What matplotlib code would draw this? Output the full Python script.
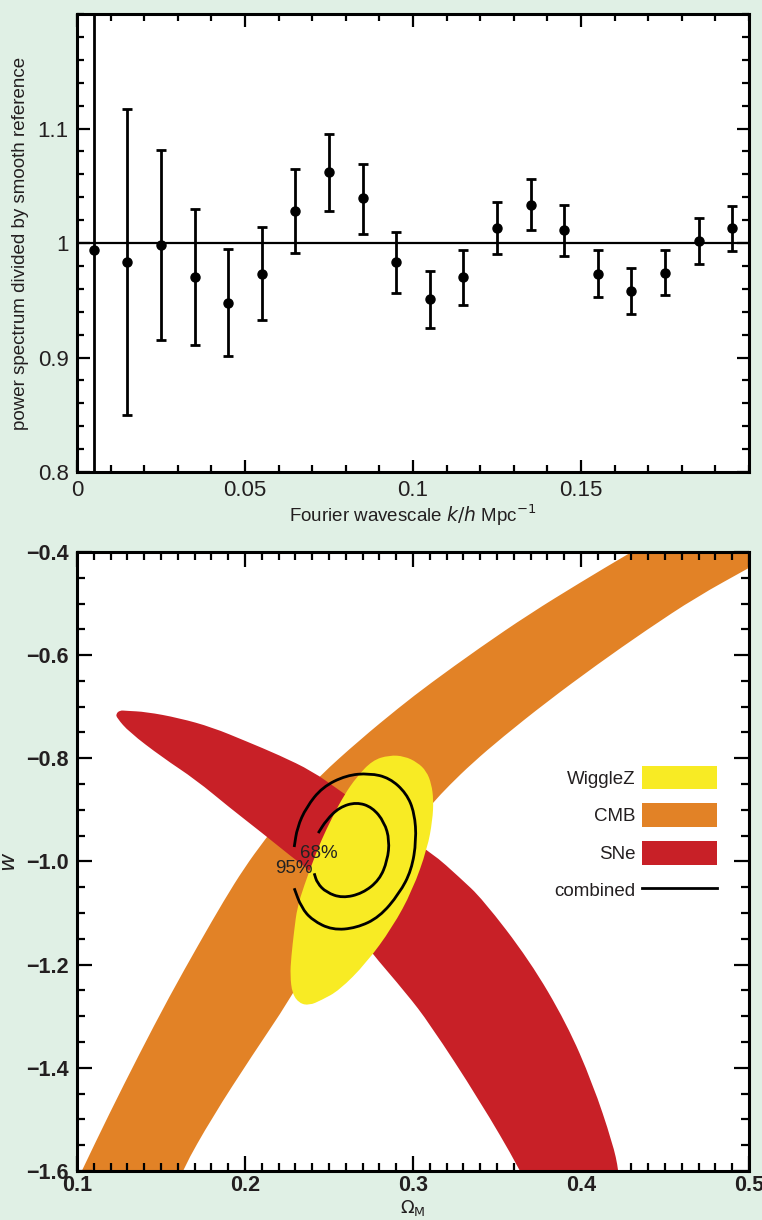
import matplotlib
matplotlib.use('Agg')
import matplotlib.pyplot as plt
from matplotlib.patches import Patch, PathPatch
from matplotlib.path import Path
from matplotlib.lines import Line2D
from matplotlib.ticker import MultipleLocator

FONT = ['Liberation Sans Narrow', 'Liberation Sans', 'DejaVu Sans']
plt.rcParams['font.family'] = FONT
plt.rcParams['mathtext.fontset'] = 'custom'
plt.rcParams['mathtext.rm'] = 'Liberation Sans Narrow'
plt.rcParams['mathtext.it'] = 'Liberation Sans Narrow:italic'

BG = '#e0f0e5'
INK = '#231f20'
YELLOW = '#f8eb24'
ORANGE = '#e28226'
RED = '#c82027'

# --- top panel: power spectrum / smooth reference ---
k_vals = [0.005, 0.015, 0.025, 0.035, 0.045, 0.055, 0.065, 0.075, 0.085, 0.095,
          0.105, 0.115, 0.125, 0.135, 0.145, 0.155, 0.165, 0.175, 0.185, 0.195]
ratio = [0.994, 0.983, 0.998, 0.970, 0.948, 0.973, 1.028, 1.062, 1.039, 0.983,
         0.951, 0.970, 1.013, 1.033, 1.011, 0.973, 0.958, 0.974, 1.002, 1.013]
err_lo = [0.400, 0.133, 0.083, 0.059, 0.047, 0.040, 0.037, 0.034, 0.031, 0.027,
          0.025, 0.024, 0.023, 0.022, 0.022, 0.020, 0.020, 0.019, 0.020, 0.020]
err_hi = [0.400, 0.134, 0.083, 0.060, 0.047, 0.041, 0.037, 0.033, 0.030, 0.027,
          0.025, 0.024, 0.023, 0.023, 0.022, 0.021, 0.020, 0.020, 0.020, 0.019]

# --- bottom panel: (Omega_M, w) confidence regions (outline vertices) ---
cmb_om = [0.0946, 0.1030, 0.1191, 0.1370, 0.1548, 0.1727, 0.1876, 0.1995, 0.2115, 0.2264,
          0.2442, 0.2681, 0.2919, 0.3098, 0.3396, 0.3694, 0.3992, 0.4290, 0.4588,
          0.5243, 0.5000, 0.4689, 0.4391, 0.4093, 0.3795, 0.3533, 0.3354, 0.3217, 0.3116,
          0.2919, 0.2681, 0.2442, 0.2264, 0.2043, 0.1805, 0.1626, 0.1560]
cmb_w = [-1.657, -1.599, -1.490, -1.374, -1.263, -1.159, -1.075, -1.013, -0.959, -0.897,
         -0.835, -0.765, -0.701, -0.656, -0.586, -0.520, -0.460, -0.402, -0.346,
         -0.386, -0.431, -0.487, -0.551, -0.619, -0.691, -0.759, -0.809, -0.852, -0.887,
         -0.963, -1.062, -1.168, -1.269, -1.376, -1.496, -1.599, -1.657]
cmb_corners = [0, 18, 19, 36]

sne_om = [0.1232, 0.1256, 0.1292, 0.1411, 0.1608, 0.1805, 0.2007, 0.2204, 0.2401, 0.2561,
          0.2800, 0.3116, 0.3277, 0.3414, 0.3694, 0.3914, 0.4069, 0.4189, 0.4224, 0.4250,
          0.3760, 0.3640, 0.3396, 0.3098, 0.2961, 0.2740, 0.2561, 0.2401, 0.2281, 0.2103,
          0.1906, 0.1709, 0.1507, 0.1310, 0.1238]
sne_w = [-0.714, -0.707, -0.708, -0.710, -0.722, -0.740, -0.767, -0.794, -0.825, -0.862,
         -0.916, -0.984, -1.031, -1.073, -1.192, -1.314, -1.430, -1.547, -1.599, -1.680,
         -1.680, -1.599, -1.463, -1.314, -1.256, -1.172, -1.095, -1.021, -0.992, -0.945,
         -0.895, -0.842, -0.798, -0.749, -0.722]
sne_corners = [19, 20]

wig_om = [0.2859, 0.2949, 0.3026, 0.3080, 0.3110, 0.3122, 0.3116, 0.3086, 0.2997, 0.2877,
          0.2722, 0.2561, 0.2454, 0.2383, 0.2323, 0.2281, 0.2269, 0.2275, 0.2293, 0.2311,
          0.2353, 0.2401, 0.2454, 0.2520, 0.2591, 0.2663, 0.2758]
wig_w = [-0.794, -0.796, -0.808, -0.825, -0.850, -0.881, -0.920, -0.974, -1.056, -1.128,
         -1.197, -1.250, -1.269, -1.279, -1.275, -1.256, -1.221, -1.186, -1.133, -1.089,
         -1.046, -1.003, -0.959, -0.914, -0.871, -0.837, -0.804]

c68_om = [0.2436, 0.2484, 0.2562, 0.2663, 0.2758, 0.2830, 0.2860, 0.2848, 0.2800, 0.2699,
          0.2579, 0.2484, 0.2430, 0.2412]
c68_w = [-0.945, -0.920, -0.895, -0.885, -0.895, -0.924, -0.959, -0.998, -1.036, -1.062,
         -1.071, -1.060, -1.042, -1.023]
c95_om = [0.2293, 0.2311, 0.2365, 0.2460, 0.2603, 0.2740, 0.2860, 0.2961, 0.3009, 0.3020,
          0.2991, 0.2919, 0.2800, 0.2663, 0.2520, 0.2401, 0.2335, 0.2293]
c95_w = [-0.972, -0.934, -0.895, -0.856, -0.833, -0.829, -0.838, -0.868, -0.906, -0.959,
         -1.017, -1.062, -1.108, -1.129, -1.133, -1.114, -1.089, -1.052]

legend_labels = ['WiggleZ', 'CMB', 'SNe', 'combined']


def closed_outline(xs, ys, corners=()):
    # quadratic bezier through segment midpoints, sharp at the given vertices
    n = len(xs)
    mid = [((xs[i] + xs[(i + 1) % n]) / 2, (ys[i] + ys[(i + 1) % n]) / 2) for i in range(n)]
    verts = [mid[-1]]
    codes = [Path.MOVETO]
    for i in range(n):
        code = Path.LINETO if i in corners else Path.CURVE3
        verts += [(xs[i], ys[i]), mid[i]]
        codes += [code, code]
    verts.append(mid[-1])
    codes.append(Path.CLOSEPOLY)
    return Path(verts, codes)


def open_outline(xs, ys):
    n = len(xs)
    mid = [((xs[i] + xs[i + 1]) / 2, (ys[i] + ys[i + 1]) / 2) for i in range(n - 1)]
    verts = [(xs[0], ys[0]), mid[0]]
    codes = [Path.MOVETO, Path.LINETO]
    for i in range(1, n - 1):
        verts += [(xs[i], ys[i]), mid[i]]
        codes += [Path.CURVE3, Path.CURVE3]
    verts.append((xs[-1], ys[-1]))
    codes.append(Path.LINETO)
    return Path(verts, codes)


def style_axes(ax, size, weight='normal'):
    for sp in ax.spines.values():
        sp.set_linewidth(2.2)
    ax.tick_params(which='both', direction='in', top=True, right=True,
                   labelsize=size, labelcolor=INK, width=1.6, pad=6)
    ax.tick_params(which='major', length=9)
    ax.tick_params(which='minor', length=5)
    for lab in ax.get_xticklabels() + ax.get_yticklabels():
        lab.set_fontweight(weight)


fig = plt.figure(figsize=(7.62, 12.2), dpi=100, facecolor=BG)

# top panel
ax1 = fig.add_axes([0.101, 0.6131, 0.882, 0.3754])
ax1.axhline(1.0, color='k', lw=1.6, zorder=1)
ax1.errorbar(k_vals, ratio, yerr=[err_lo, err_hi], fmt='o', color='k', ms=6.5,
             elinewidth=2.0, capsize=3.5, capthick=2.0, zorder=3)
ax1.set_xlim(0, 0.2)
ax1.set_ylim(0.8, 1.2)
ax1.set_xticks([0, 0.05, 0.1, 0.15])
ax1.set_xticklabels(['0', '0.05', '0.1', '0.15'])
ax1.set_yticks([0.8, 0.9, 1.0, 1.1])
ax1.set_yticklabels(['0.8', '0.9', '1', '1.1'])
ax1.xaxis.set_minor_locator(MultipleLocator(0.01))
ax1.yaxis.set_minor_locator(MultipleLocator(0.02))
style_axes(ax1, 16)
ax1.set_xlabel('Fourier wavescale $k/h$ Mpc$^{-1}$', fontsize=13.5, color=INK, labelpad=1)
ax1.set_ylabel('power spectrum divided by smooth reference', fontsize=13.5, color=INK, labelpad=6)

# bottom panel
ax2 = fig.add_axes([0.101, 0.0402, 0.882, 0.5074])
ax2.add_patch(PathPatch(closed_outline(cmb_om, cmb_w, cmb_corners), facecolor=ORANGE, lw=0, zorder=1))
ax2.add_patch(PathPatch(closed_outline(sne_om, sne_w, sne_corners), facecolor=RED, lw=0, zorder=2))
ax2.add_patch(PathPatch(closed_outline(wig_om, wig_w), facecolor=YELLOW, lw=0, zorder=3))
for cx, cy in [(c68_om, c68_w), (c95_om, c95_w)]:
    ax2.add_patch(PathPatch(open_outline(cx, cy), facecolor='none', edgecolor='k',
                            lw=2.0, capstyle='butt', zorder=4))
ax2.text(0.2442, -0.984, '68%', fontsize=13.5, color='#222222', ha='center', va='center', zorder=5)
ax2.text(0.2293, -1.013, '95%', fontsize=13.5, color='#222222', ha='center', va='center', zorder=5)
ax2.set_xlim(0.1, 0.5)
ax2.set_ylim(-1.6, -0.4)
ax2.set_xticks([0.1, 0.2, 0.3, 0.4, 0.5])
ax2.set_xticklabels(['0.1', '0.2', '0.3', '0.4', '0.5'])
ax2.set_yticks([-1.6, -1.4, -1.2, -1.0, -0.8, -0.6, -0.4])
ax2.set_yticklabels(['\u22121.6', '\u22121.4', '\u22121.2', '\u22121.0',
                     '\u22120.8', '\u22120.6', '\u22120.4'])
ax2.xaxis.set_minor_locator(MultipleLocator(0.01))
ax2.yaxis.set_minor_locator(MultipleLocator(0.05))
style_axes(ax2, 15.5, 'bold')
ax2.tick_params(which='major', length=11)
ax2.tick_params(which='minor', length=6)
ax2.tick_params(axis='x', pad=3)
ax2.set_xlabel('$\\Omega_{\\rm M}$', fontsize=13, color=INK, labelpad=1)
ax2.set_ylabel('$w$', fontsize=16, color=INK, labelpad=4)

handles = [Patch(facecolor=YELLOW, lw=0), Patch(facecolor=ORANGE, lw=0),
           Patch(facecolor=RED, lw=0), Line2D([], [], color='k', lw=2.0)]
leg = ax2.legend(handles, legend_labels, loc='upper right', bbox_to_anchor=(0.9524, 0.6543),
                 frameon=False, markerfirst=False, borderpad=0, borderaxespad=0,
                 handlelength=4.0, handleheight=1.55, handletextpad=0.35,
                 labelspacing=0.75, fontsize=13.5)
for t in leg.get_texts():
    t.set_color(INK)

fig.savefig('out.png', dpi=100, facecolor=BG)
